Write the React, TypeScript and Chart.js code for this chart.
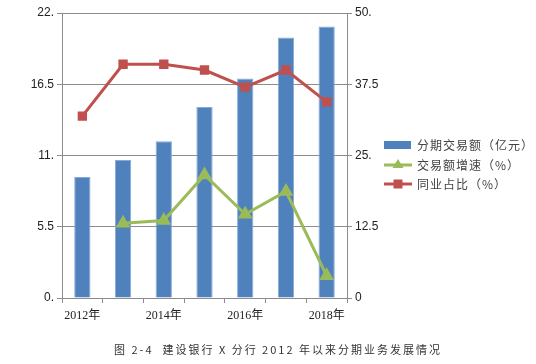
import React, { useEffect, useRef } from "react";
import { Chart, registerables } from "chart.js";

Chart.register(...registerables);

const categories = ["2012年", "2013年", "2014年", "2015年", "2016年", "2017年", "2018年"];
const shownLabels = ["2012年", "2014年", "2016年", "2018年"];
const amount = [9.35, 10.65, 12.1, 14.75, 16.95, 20.1, 20.95];
const growth: (number | null)[] = [null, 13.1, 13.6, 21.6, 14.7, 18.7, 3.9];
const share = [31.9, 41.0, 41.0, 40.0, 37.0, 40.0, 34.4];
const leftTicks = [0, 5.5, 11, 16.5, 22];
const leftTickLabels = ["0.", "5.5", "11.", "16.5", "22."];
const rightTicks = [0, 12.5, 25, 37.5, 50];
const rightTickLabels = ["0", "12.5", "25.", "37.5", "50."];
const seriesNames = ["分期交易额（亿元）", "交易额增速（%）", "同业占比（%）"];
const caption = "图 2-4  建设银行 X 分行 2012 年以来分期业务发展情况";

const BLUE = "#4F81BD";
const GREEN = "#9BBB59";
const RED = "#C0504D";
const GRID = "#8c8c8c";

export default function App() {
  const ref = useRef<HTMLCanvasElement | null>(null);
  useEffect(() => {
    if (!ref.current) return;
    const chart = new Chart(ref.current, {
      type: "bar",
      data: {
        labels: categories,
        datasets: [
          {
            type: "line",
            label: seriesNames[2],
            data: share,
            yAxisID: "y1",
            borderColor: RED,
            backgroundColor: RED,
            borderWidth: 3,
            pointStyle: "rect",
            pointRadius: 4.5,
            pointBackgroundColor: RED,
            pointBorderColor: RED,
            order: 0,
          },
          {
            type: "line",
            label: seriesNames[1],
            data: growth,
            yAxisID: "y1",
            borderColor: GREEN,
            backgroundColor: GREEN,
            borderWidth: 3,
            pointStyle: "triangle",
            pointRadius: 5.5,
            pointBackgroundColor: GREEN,
            pointBorderColor: GREEN,
            spanGaps: false,
            order: 1,
          },
          {
            type: "bar",
            label: seriesNames[0],
            data: amount,
            yAxisID: "y",
            backgroundColor: BLUE,
            borderColor: "#8aaad6",
            borderWidth: 1,
            barPercentage: 0.4,
            categoryPercentage: 1,
            order: 2,
          },
        ],
      },
      options: {
        responsive: false,
        animation: false,
        layout: { padding: { left: 0, right: 149, top: 13, bottom: 0 } },
        plugins: { legend: { display: false }, tooltip: { enabled: false } },
        scales: {
          x: {
            offset: true,
            grid: {
              offset: true,
              drawOnChartArea: false,
              drawTicks: true,
              tickLength: 5,
              color: GRID,
            },
            border: { color: GRID, width: 1 },
            ticks: {
              autoSkip: false,
              maxRotation: 0,
              padding: 6,
              color: "#222",
              font: { family: "'Liberation Serif', 'Noto Sans CJK SC', serif", size: 12 },
              callback: (_v: any, i: number) =>
                shownLabels.includes(categories[i]) ? categories[i] : "",
            },
            afterFit: (s: any) => {
              s.height = 66;
            },
          },
          y: {
            position: "left",
            min: 0,
            max: 22,
            afterBuildTicks: (s: any) => {
              s.ticks = leftTicks.map((v) => ({ value: v }));
            },
            grid: { color: GRID, tickLength: 5, drawTicks: true },
            border: { color: GRID, width: 1 },
            ticks: {
              padding: 3,
              color: "#222",
              font: { family: "'Liberation Sans', sans-serif", size: 12 },
              callback: (_v: any, i: number) => leftTickLabels[i],
            },
            afterFit: (s: any) => {
              s.width = 62;
            },
          },
          y1: {
            position: "right",
            min: 0,
            max: 50,
            afterBuildTicks: (s: any) => {
              s.ticks = rightTicks.map((v) => ({ value: v }));
            },
            grid: { drawOnChartArea: false, color: GRID, tickLength: 5, drawTicks: true },
            border: { color: GRID, width: 1 },
            ticks: {
              padding: 3,
              color: "#222",
              font: { family: "'Liberation Sans', sans-serif", size: 12 },
              callback: (_v: any, i: number) => rightTickLabels[i],
            },
            afterFit: (s: any) => {
              s.width = 40;
            },
          },
        },
      },
    } as any);
    return () => chart.destroy();
  }, []);

  const legendText: React.CSSProperties = {
    position: "absolute",
    left: 417,
    fontFamily: "'Noto Sans CJK SC', sans-serif",
    fontSize: 12,
    letterSpacing: 1,
    color: "#444",
    lineHeight: "14px",
    whiteSpace: "nowrap",
  };

  return (
    <div style={{ position: "absolute", left: 0, top: 0, width: 536, height: 364, background: "#fff" }}>
      <canvas ref={ref} width={536} height={364} style={{ width: 536, height: 364, display: "block" }} />
      {/* legend */}
      <div style={{ position: "absolute", left: 384, top: 141, width: 27, height: 8, background: BLUE }} />
      <div style={{ ...legendText, top: 138 }}>{seriesNames[0]}</div>
      <svg style={{ position: "absolute", left: 384, top: 158 }} width={28} height={14}>
        <line x1={0} y1={7} x2={28} y2={7} stroke={GREEN} strokeWidth={3} />
        <polygon points="14,1 19.5,10 8.5,10" fill={GREEN} />
      </svg>
      <div style={{ ...legendText, top: 158 }}>{seriesNames[1]}</div>
      <svg style={{ position: "absolute", left: 384, top: 177 }} width={28} height={14}>
        <line x1={0} y1={7} x2={28} y2={7} stroke={RED} strokeWidth={3} />
        <rect x={9.5} y={2.5} width={9} height={9} fill={RED} />
      </svg>
      <div style={{ ...legendText, top: 177 }}>{seriesNames[2]}</div>
      {/* caption */}
      <div
        style={{
          position: "absolute",
          left: 0,
          width: 556,
          top: 341,
          textAlign: "center",
          fontFamily: "'Noto Sans CJK SC', serif",
          fontSize: 11,
          letterSpacing: 2,
          color: "#333",
          whiteSpace: "pre",
        }}
      >
        {caption}
      </div>
    </div>
  );
}
